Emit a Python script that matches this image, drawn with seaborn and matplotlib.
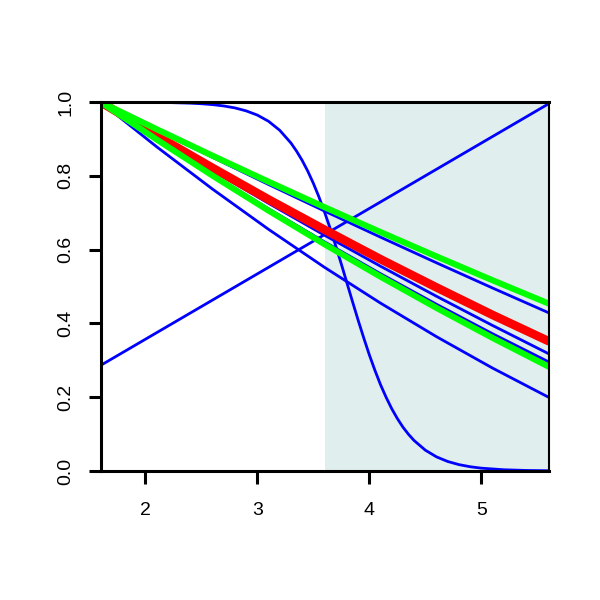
import matplotlib
matplotlib.use("Agg")
import matplotlib.pyplot as plt
import seaborn as sns
import pandas as pd

# ---- data ----
x_grid = [1.6, 2.1, 2.6, 3.1, 3.6, 4.1, 4.6, 5.1, 5.6]

green_top = [1.0, 0.9265, 0.8545, 0.784, 0.715, 0.6475, 0.5815, 0.517, 0.454]
blue_a = [1.0, 0.924, 0.850, 0.7765, 0.7045, 0.6337, 0.5642, 0.496, 0.429]
red_mid = [1.0, 0.909, 0.8215, 0.736, 0.654, 0.574, 0.4975, 0.423, 0.352]
blue_b = [1.0, 0.906, 0.8145, 0.7255, 0.639, 0.555, 0.4735, 0.3945, 0.318]
blue_c = [1.0, 0.900, 0.8038, 0.7107, 0.621, 0.5347, 0.4518, 0.372, 0.296]
green_low = [1.0, 0.8986, 0.8005, 0.7058, 0.6145, 0.5266, 0.442, 0.3608, 0.283]
blue_low = [1.0, 0.879, 0.764, 0.655, 0.552, 0.455, 0.364, 0.279, 0.2]

rise_x = [1.6, 5.6]
rise_y = [0.286, 0.995]

sig_x = [1.6, 1.8, 2.0, 2.2, 2.4, 2.5, 2.6, 2.7, 2.8, 2.9, 3.0, 3.1, 3.2, 3.3,
         3.35, 3.4, 3.45, 3.5, 3.55, 3.6, 3.65, 3.7, 3.75, 3.8, 3.85, 3.9, 3.95,
         4.0, 4.05, 4.1, 4.15, 4.2, 4.25, 4.3, 4.35, 4.4, 4.5, 4.6, 4.7, 4.8,
         4.9, 5.0, 5.2, 5.4, 5.6]
sig_y = [1.0, 0.9997, 0.9994, 0.9986, 0.9969, 0.9953, 0.9929, 0.9893, 0.984,
         0.976, 0.9646, 0.9478, 0.9234, 0.889, 0.867, 0.842, 0.813, 0.780,
         0.743, 0.702, 0.658, 0.6105, 0.561, 0.510, 0.459, 0.409, 0.361, 0.315,
         0.273, 0.234, 0.1998, 0.169, 0.1423, 0.119, 0.0994, 0.0826, 0.0565,
         0.0383, 0.0258, 0.0173, 0.0116, 0.0077, 0.0034, 0.0015, 0.0007]

x_ticks = [2, 3, 4, 5]
y_ticks = [0.0, 0.2, 0.4, 0.6, 0.8, 1.0]
shade_from, shade_to = 3.6, 5.6

# ---- figure ----
sns.set_style("white")
plt.rcParams['font.family'] = ['Liberation Sans', 'DejaVu Sans']

fig = plt.figure(figsize=(6, 6), dpi=100)
ax = fig.add_axes([100.5 / 600, 129 / 600, 448 / 600, 369 / 600])

ax.axvspan(shade_from, shade_to, color="#E0EEEE", zorder=0.5, lw=0)

blue = "#0000FF"
green = "#00FF00"
red = "#FF0000"
blw = 2.0

def draw(xs, ys, color, lw, z):
    df = pd.DataFrame({"x": xs, "y": ys})
    sns.lineplot(data=df, x="x", y="y", color=color, linewidth=lw, ax=ax,
                 sort=False, estimator=None, zorder=z)

draw(sig_x, sig_y, blue, blw, 2)
draw(rise_x, rise_y, blue, blw, 2)
for s in (blue_a, blue_b, blue_c, blue_low):
    draw(x_grid, s, blue, blw, 2)
draw(x_grid, red_mid, red, 6.2, 3)
draw(x_grid, green_top, green, 4.4, 4)
draw(x_grid, green_low, green, 4.4, 4)

ax.set_xlim(1.6, 5.6)
ax.set_ylim(0, 1)
ax.set_xticks(x_ticks)
ax.set_xticklabels([str(v) for v in x_ticks], fontsize=14)
ax.set_yticks(y_ticks)
ax.set_yticklabels([f"{v:.1f}" for v in y_ticks], fontsize=14, rotation=90, va="center")
ax.set_xlabel("")
ax.set_ylabel("")

for side in ["left", "bottom", "top"]:
    ax.spines[side].set_linewidth(2.2)
    ax.spines[side].set_color("black")
ax.spines["right"].set_linewidth(1.5)
ax.spines["right"].set_color("black")
for sp in ax.spines.values():
    sp.set_zorder(5)

ax.tick_params(axis="x", bottom=True, direction="out", length=9, width=2.2, pad=13, colors="black")
ax.tick_params(axis="y", left=True, direction="out", length=9, width=2.2, pad=10, colors="black")

fig.savefig("out.png", dpi=100)
